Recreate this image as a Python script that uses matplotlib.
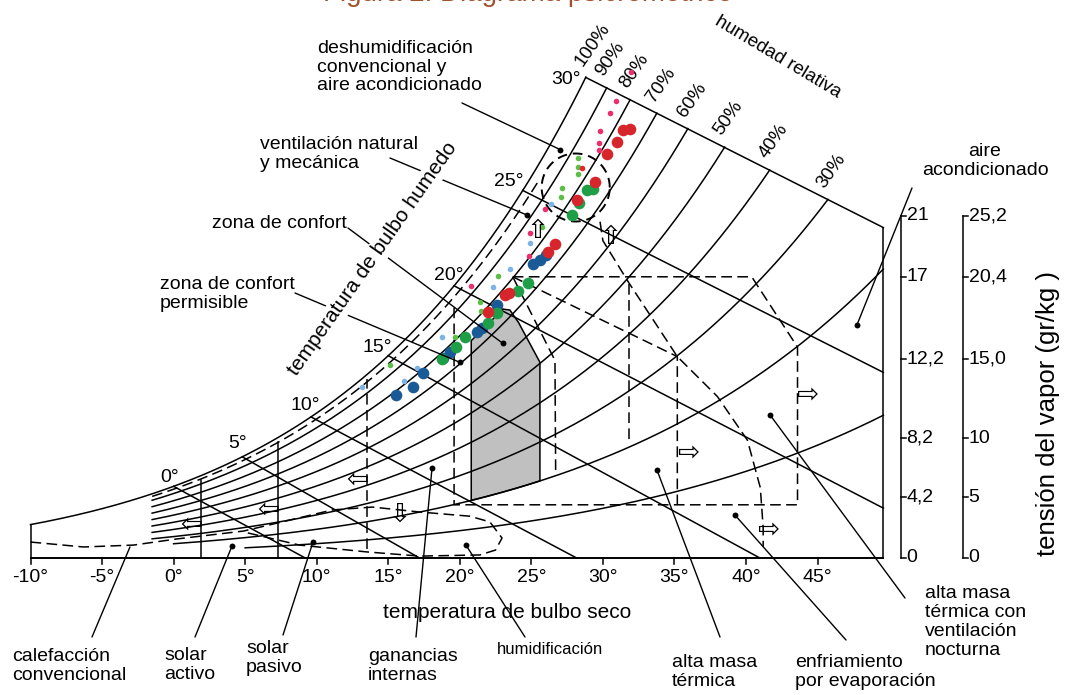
import numpy as np
import matplotlib
matplotlib.use('Agg')
import matplotlib.pyplot as plt
from matplotlib.patches import Polygon

plt.rcParams['font.family'] = ['Liberation Sans', 'DejaVu Sans']

W_PX, H_PX = 1067, 695


def w_sat(t, rh=1.0):
    # humidity ratio in g/kg for dry bulb t (C) and relative humidity rh
    t = np.asarray(t, dtype=float)
    ps = 0.61078 * np.exp(17.27 * t / (t + 237.3))
    pv = rh * ps
    return 622.0 * pv / (101.325 - pv)


# ---- values (dry bulb C, humidity ratio g/kg) ----
t_left, t_right = -10, 49.6
x_ticks = [-10, -5, 0, 5, 10, 15, 20, 25, 30, 35, 40, 45]

rh_levels = [1.0, 0.9, 0.8, 0.7, 0.6, 0.5, 0.4, 0.3, 0.2, 0.1]
rh_labels = ['100%', '90%', '80%', '70%', '60%', '50%', '40%', '30%', '', '']
rh_start = [-10, -1.5, -1.5, -1.5, -1.5, -1.5, -1.5, -1.5, 0, 5]
rh_dashed = 0.96

wb_labels = ['0°', '5°', '10°', '15°', '20°', '25°', '30°']
wb_start = [0.0, 4.8, 9.6, 15.0, 19.6, 24.4, 28.8]
wb_slope = [0.41, 0.43, 0.40, 0.41, 0.39, 0.38, 0.38]

vp_pos = [18.0, 14.8, 10.5, 6.3, 3.2, 0.0]
vp_labels_a = ['21', '17', '12,2', '8,2', '4,2', '0']
vp_labels_b = ['25,2', '20,4', '15,0', '10', '5', '0']

# comfort zone (grey)
comfort_t = [20.8, 25.6]
comfort_rh = [0.745, 0.20]
comfort_top_t = [23.0, 23.5, 24.1, 25.6]
comfort_top_w = [13.1, 13.05, 12.4, 10.3]

# dashed zone limits
zone_a_t = [23.7, 40.4, 43.6, 43.6, 19.6, 19.6]
zone_a_w = [14.8, 14.8, 11.1, 2.8, 2.8, 13.3]
zone_b_t = [23.7, 26.65, 26.7]
zone_b_w = [14.8, 10.4, 4.4]
zone_c_t = [23.7, 35.2, 35.2]
zone_c_w = [14.8, 10.6, 2.8]
zone_d_t = [31.8, 31.8]
zone_d_w = [14.4, 6.0]
evap_t = [29.8, 30.0, 31.8, 35.2, 38.0, 40.1, 41.0, 41.2, 41.2]
evap_w = [17.7, 16.7, 14.5, 10.6, 8.5, 6.2, 3.7, 1.6, 0.6]
heat_t = [-10.0, -6.3, -2.8, 0.2, 4.9, 11.1, 13.9, 17.2, 20.7, 22.1, 22.95, 22.5, 21.4, 17.2, 13.5, 8.8, 4.9]
heat_w = [0.84, 0.58, 0.68, 1.0, 1.42, 2.53, 2.68, 2.42, 2.2, 1.9, 1.05, 0.42, 0.16, 0.1, 0.32, 0.68, 1.37]
solar_t = [1.9, 7.3]
solar_top = [4.1, 6.1]
heat_lim_t = 13.5
heat_lim_w = [0.5, 9.4]
dehum_c = (28.1, 19.5)
dehum_r = (2.38, 1.79)

# zone marker dots
dot_t = [27.0, 24.7, 23.0, 20.0, 47.75, 4.08, 9.74, 18.06, 20.43, 33.78, 39.23, 41.68]
dot_w = [21.5, 18.05, 11.3, 10.3, 12.26, 0.63, 0.84, 4.74, 0.68, 4.63, 2.26, 7.53]
heat_end = (-3.05, 0.58)

# measured climate points
blue_t = [15.54, 16.73, 17.43, 18.83, 19.32, 21.20, 21.55, 22.60, 25.12, 25.61, 26.03]
blue_w = [8.58, 9.00, 9.74, 10.53, 10.84, 11.89, 12.11, 13.32, 15.47, 15.68, 15.95]
red_t = [21.97, 23.16, 23.44, 26.16, 26.65, 28.19, 29.45, 30.29, 30.99, 31.41, 31.90]
red_w = [12.95, 13.84, 13.95, 16.11, 16.53, 18.84, 19.79, 21.26, 21.89, 22.53, 22.58]
green_t = [18.76, 19.73, 20.36, 21.97, 22.60, 24.07, 24.77, 27.84, 28.33, 28.89, 29.31]
green_w = [10.47, 11.11, 11.63, 12.37, 12.89, 14.05, 14.47, 18.05, 18.68, 19.37, 19.42]
pink_t = [31.97, 30.92, 30.50, 29.80, 29.73, 29.73, 25.95, 24.91, 24.83, 20.78]
pink_w = [25.58, 24.05, 23.42, 22.47, 21.84, 21.47, 18.37, 17.11, 15.89, 14.32]
lblue_t = [26.37, 24.91, 23.51, 22.32, 18.76, 17.01, 16.10, 13.17]
lblue_w = [18.63, 16.58, 15.21, 14.26, 11.63, 10.00, 9.32, 9.00]
lgreen_t = [28.26, 28.26, 28.26, 27.14, 27.07, 25.74, 22.67, 21.41, 21.48, 19.66, 15.12]
lgreen_w = [21.05, 20.58, 20.21, 19.47, 19.00, 17.42, 14.84, 13.47, 13.00, 11.63, 10.16]
sred_t = [28.54]
sred_w = [20.53]


def fp(x, y):
    # pixel position -> axes fraction (layout only)
    return (x / W_PX, 1 - y / H_PX)


def w_top(t):
    return w_sat(wb_start[-1]) - wb_slope[-1] * (np.asarray(t) - wb_start[-1])


def rh_end(rh, t0):
    tt = np.linspace(t0, t_right, 4000)
    d = w_sat(tt, rh) - w_top(tt)
    idx = np.where(d >= 0)[0]
    return tt[idx[0]] if len(idx) else t_right


fig = plt.figure(figsize=(W_PX / 100, H_PX / 100), dpi=100)
ax = fig.add_axes([0, 0, 1, 1])
ax.set_xlim((0 - 173.6) / 14.31, (W_PX - 173.6) / 14.31)
ax.set_ylim((558 - H_PX) / 19.0, 558 / 19.0)
ax.axis('off')

LW = 1.1
DASH = (7, 3.5)
FS = 14
LEAD = dict(arrowstyle='-', lw=1.0, color='k', shrinkA=0, shrinkB=0)

# comfort polygon
tl = np.linspace(comfort_t[0], comfort_top_t[0], 30)
tb = np.linspace(comfort_t[1], comfort_t[0], 40)
poly = ([(comfort_t[0], w_sat(comfort_t[0], comfort_rh[1]))]
        + list(zip(tl, w_sat(tl, comfort_rh[0])))
        + list(zip(comfort_top_t, comfort_top_w))
        + list(zip(tb, w_sat(tb, comfort_rh[1]))))
ax.add_patch(Polygon(poly, closed=True, fc='#c0c0c0', ec='k', lw=LW, zorder=1))

# relative humidity curves
for rh, lab, t0 in zip(rh_levels, rh_labels, rh_start):
    te = rh_end(rh, t0)
    tt = np.linspace(t0, te, 300)
    ax.plot(tt, w_sat(tt, rh), color='k', lw=LW, zorder=2)
    if lab:
        ax.annotate(lab, xy=(te, float(w_sat(te, rh))), xytext=(0, 6), textcoords='offset points',
                    rotation=55, rotation_mode='anchor', ha='left', va='bottom', fontsize=13.5)
tt = np.linspace(-1.5, 25.5, 300)
ax.plot(tt, w_sat(tt, rh_dashed), color='k', lw=LW, dashes=DASH, zorder=2)

# wet bulb lines
wb_label_px = [(170, 478), (238, 443), (305, 405), (377, 348), (449, 276), (509, 182), (566, 80)]
for ts, k, lab, (lx, ly) in zip(wb_start, wb_slope, wb_labels, wb_label_px):
    w0 = float(w_sat(ts))
    te = min(ts + w0 / k, t_right)
    ax.plot([ts, te], [w0, w0 - k * (te - ts)], color='k', lw=LW, zorder=2)
    ax.text(*fp(lx, ly), lab, transform=ax.transAxes, ha='center', va='center', fontsize=14)

# frame and dry bulb axis
ax.plot([t_left, t_right], [0, 0], color='k', lw=1.4, zorder=2)
ax.plot([t_left, t_left], [0, float(w_sat(t_left))], color='k', lw=LW, zorder=2)
ax.plot([t_right, t_right], [0, float(w_top(t_right))], color='k', lw=LW, zorder=2)
for t in x_ticks:
    ax.plot([t, t], [0, -0.33], color='k', lw=LW)
    ax.text(t, -1.05, f'{t}°', ha='center', va='center', fontsize=14)

# vapour scales on the right
for t_ax, labs in ((50.84, vp_labels_a), (55.17, vp_labels_b)):
    ax.plot([t_ax, t_ax], [vp_pos[-1], vp_pos[0]], color='k', lw=LW)
    for p, lab in zip(vp_pos, labs):
        ax.plot([t_ax, t_ax + 0.35], [p, p], color='k', lw=LW)
        ax.text(t_ax + 0.38, p, lab, ha='left', va='center', fontsize=14)

# zone limits
for zt, zw in ((zone_a_t, zone_a_w), (zone_b_t, zone_b_w), (zone_c_t, zone_c_w),
               (zone_d_t, zone_d_w), (evap_t, evap_w), (heat_t, heat_w)):
    ax.plot(zt, zw, color='k', lw=LW, dashes=DASH, zorder=2)
ax.plot([heat_lim_t, heat_lim_t], heat_lim_w, color='k', lw=LW, dashes=DASH, zorder=2)
for st, sw in zip(solar_t, solar_top):
    ax.plot([st, st], [0, sw], color='k', lw=LW, zorder=2)
a = np.linspace(0, 2 * np.pi, 200)
ax.plot(dehum_c[0] + dehum_r[0] * np.cos(a), dehum_c[1] + dehum_r[1] * np.sin(a),
        color='k', lw=1.4, dashes=(5, 3), zorder=2)

# arrows
for g, x, y in (('⇦', 357, 481), ('⇦', 268, 511), ('⇦', 191, 526), ('⇩', 400, 515),
                ('⇨', 688, 454), ('⇨', 807, 396), ('⇨', 768, 531), ('⇧', 538, 231), ('⇧', 611, 237)):
    ax.text(*fp(x, y), g, transform=ax.transAxes, ha='center', va='center', fontsize=19,
            family=['DejaVu Sans'], zorder=4)

# climate points
ax.scatter(lblue_t, lblue_w, s=16, c='#7db3e6', lw=0, zorder=3)
ax.scatter(lgreen_t, lgreen_w, s=16, c='#5bbf45', lw=0, zorder=3)
ax.scatter(pink_t, pink_w, s=16, c='#ea2f6b', lw=0, zorder=3)
ax.scatter(blue_t, blue_w, s=70, c='#1a5a96', lw=0, zorder=3)
ax.scatter(green_t, green_w, s=70, c='#1f9e48', lw=0, zorder=3)
ax.scatter(red_t, red_w, s=70, c='#d7262b', lw=0, zorder=3)
ax.scatter(sred_t, sred_w, s=16, c='#e8262a', lw=0, zorder=3)

# zone labels with leaders
ax.scatter(dot_t, dot_w, s=18, c='k', lw=0, zorder=5)
labels = [
    ('deshumidificación\nconvencional y\naire acondicionado', (317, 67), 'left', (462, 103), 0),
    ('ventilación natural\ny mecánica', (260, 154), 'left', (390, 158), 1),
    ('zona de confort', (212, 223), 'left', (348, 228), 2),
    ('zona de confort\npermisible', (160, 294), 'left', (295, 293), 3),
    ('aire\nacondicionado', (985, 161), 'center', (912, 188), 4),
    ('solar\nactivo', (164, 665), 'left', (195, 637), 5),
    ('solar\npasivo', (246, 658), 'left', (283, 635), 6),
    ('ganancias\ninternas', (368, 666), 'left', (416, 637), 7),
    ('alta masa\ntérmica', (672, 672), 'left', (720, 637), 9),
    ('enfriamiento\npor evaporación', (795, 672), 'left', (846, 640), 10),
    ('alta masa\ntérmica con\nventilación\nnocturna', (925, 622), 'left', (905, 598), 11),
]
for txt, (x, y), ha, (sx, sy), i in labels:
    ax.text(*fp(x, y), txt, transform=ax.transAxes, ha=ha, va='center', ma=ha,
            linespacing=1.15, fontsize=FS)
    ax.annotate('', xy=(dot_t[i], dot_w[i]), xytext=fp(sx, sy), textcoords='axes fraction',
                arrowprops=LEAD, zorder=3)
ax.text(*fp(497, 650), 'humidificación', transform=ax.transAxes, ha='left', va='center', fontsize=12)
ax.annotate('', xy=(dot_t[8], dot_w[8]), xytext=fp(525, 637), textcoords='axes fraction',
            arrowprops=LEAD, zorder=3)
ax.text(*fp(12, 666), 'calefacción\nconvencional', transform=ax.transAxes, ha='left', va='center',
        linespacing=1.15, fontsize=FS)
ax.annotate('', xy=heat_end, xytext=fp(92, 637), textcoords='axes fraction',
            arrowprops=LEAD, zorder=3)

# axis titles
ax.text(*fp(373, 259), 'temperatura de bulbo humedo', transform=ax.transAxes, rotation=55,
        rotation_mode='anchor', ha='center', va='center', fontsize=15,
        bbox=dict(fc='white', ec='none', pad=1.5), zorder=4)
ax.text(*fp(507, 612), 'temperatura de bulbo seco', transform=ax.transAxes, ha='center',
        va='center', fontsize=15)
ax.text(*fp(778, 57), 'humedad relativa', transform=ax.transAxes, rotation=-31,
        rotation_mode='anchor', ha='center', va='center', fontsize=13.5)
ax.text(*fp(1048, 413), 'tensión del vapor (gr/kg )', transform=ax.transAxes, rotation=90,
        ha='center', va='center', fontsize=18.5)
ax.text(*fp(528, 1), 'Figura 2. Diagrama psicrométrico', transform=ax.transAxes, ha='center',
        va='baseline', fontsize=20, color='#a0522d')

fig.savefig('out.png', dpi=100)
